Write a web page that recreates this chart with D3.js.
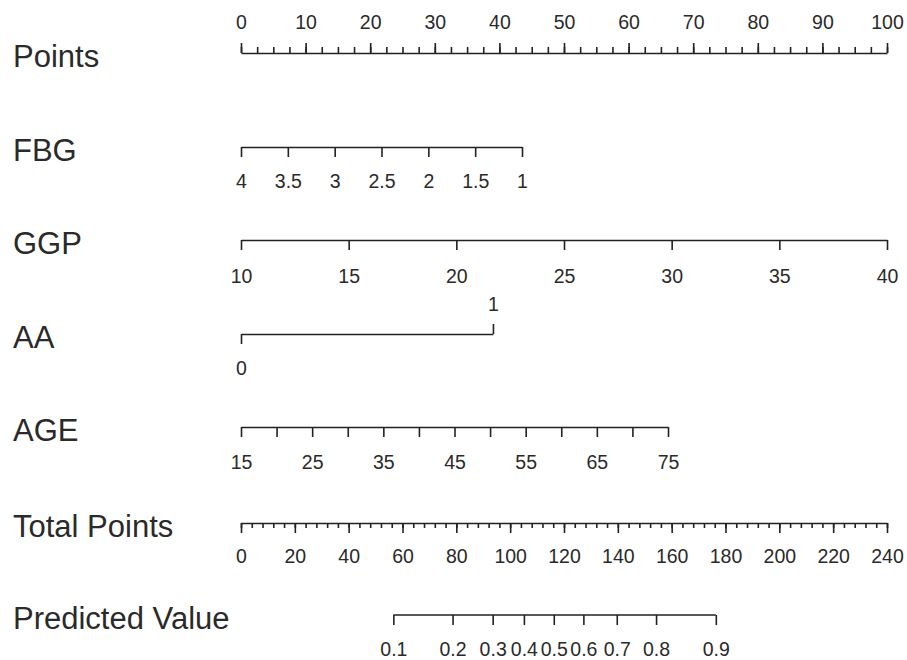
<!DOCTYPE html>
<html>
<head>
<meta charset="utf-8">
<script src="https://cdn.jsdelivr.net/npm/d3@7"></script>
<style>
  html, body { margin: 0; padding: 0; background: #fff; }
  svg { display: block; }
</style>
</head>
<body>
<svg id="chart" width="907" height="660"></svg>
<script>
// ---------------- data ----------------
const rowTitles = ["Points", "FBG", "GGP", "AA", "AGE", "Total Points", "Predicted Value"];

const pointsLabels = [0, 10, 20, 30, 40, 50, 60, 70, 80, 90, 100];
const pointsMinor = d3.range(0, 100.01, 2.5);

const fbgTicks = [4, 3.5, 3, 2.5, 2, 1.5, 1];
const fbgRange = [4, 1];          // values at 0 points and at max points
const fbgPointsMax = 43.5;

const ggpTicks = [10, 15, 20, 25, 30, 35, 40];
const ggpRange = [10, 40];
const ggpPointsMax = 100;

const aaTicks = [0, 1];
const aaRange = [0, 1];
const aaPointsMax = 39;

const ageTicks = [15, 20, 25, 30, 35, 40, 45, 50, 55, 60, 65, 70, 75];
const ageLabels = [15, 25, 35, 45, 55, 65, 75];
const ageRange = [15, 75];
const agePointsMax = 66.1;

const totalLabels = [0, 20, 40, 60, 80, 100, 120, 140, 160, 180, 200, 220, 240];
const totalMinor = d3.range(0, 240.01, 4);
const totalMax = 240;

const predLabels = ["0.1", "0.2", "0.3", "0.4", "0.5", "0.6", "0.7", "0.8", "0.9"];
const predTotalPoints = [56.6, 78.6, 93.5, 105.1, 116.2, 127.2, 139.6, 154.2, 176.4];

// ---------------- layout ----------------
const svg = d3.select("#chart");
const X0 = 241, X1 = 887;
const ink = "#222";
const titleFont = "31px 'Liberation Sans', Arial, sans-serif";
const tickFontSize = 19.5;

const xPts = d3.scaleLinear().domain([0, 100]).range([X0, X1]);
const xTot = d3.scaleLinear().domain([0, totalMax]).range([X0, X1]);

const rowY = {
  "Points": 53, "FBG": 147, "GGP": 240, "AA": 334,
  "AGE": 427, "Total Points": 523, "Predicted Value": 615
};
const labelY = {
  "Points": 22, "FBG": 181, "GGP": 276, "AA": 368,
  "AGE": 462, "Total Points": 556, "Predicted Value": 649
};

// titles
svg.selectAll("text.title")
  .data(rowTitles)
  .enter().append("text")
  .attr("class", "title")
  .attr("x", 13)
  .attr("y", d => rowY[d] + 3)
  .attr("dy", "0.35em")
  .style("font", titleFont)
  .attr("fill", "#2a2a2a")
  .text(d => d);

function styleAxis(g, labelRelY) {
  g.attr("font-family", null).attr("font-size", null);
  g.selectAll("path.domain").attr("stroke", ink).attr("stroke-width", 1.7);
  g.selectAll(".tick line").attr("stroke", ink).attr("stroke-width", 1.6);
  g.selectAll(".tick text")
    .attr("y", labelRelY)
    .attr("dy", "0.35em")
    .attr("fill", "#2a2a2a")
    .style("font-family", "'Liberation Sans', Arial, sans-serif")
    .style("font-size", tickFontSize + "px");
}

// ---- Points axis (ticks up) ----
{
  const y = rowY["Points"];
  const gMinor = svg.append("g").attr("transform", `translate(0,${y})`)
    .call(d3.axisTop(xPts).tickValues(pointsMinor).tickSize(6).tickSizeOuter(0).tickFormat(""));
  styleAxis(gMinor, 0);
  const gMajor = svg.append("g").attr("transform", `translate(0,${y})`)
    .call(d3.axisTop(xPts).tickValues(pointsLabels).tickSize(10).tickSizeOuter(0).tickFormat(d3.format("d")));
  styleAxis(gMajor, labelY["Points"] - y);
  gMajor.select("path.domain").remove();
}

// generic variable axis helper
function varAxis(name, domainRange, ptsMax, ticks, labels, fmt) {
  const y = rowY[name];
  const sc = d3.scaleLinear().domain(domainRange).range([xPts(0), xPts(ptsMax)]);
  const g = svg.append("g").attr("transform", `translate(0,${y})`)
    .call(d3.axisBottom(sc).tickValues(ticks).tickSize(10).tickSizeOuter(0)
      .tickFormat(d => (labels.indexOf(d) >= 0 ? fmt(d) : "")));
  styleAxis(g, labelY[name] - y);
  return g;
}

varAxis("FBG", fbgRange, fbgPointsMax, fbgTicks, fbgTicks, d => String(d));
varAxis("GGP", ggpRange, ggpPointsMax, ggpTicks, ggpTicks, d => String(d));
varAxis("AGE", ageRange, agePointsMax, ageTicks, ageLabels, d => String(d));

// ---- AA (0 below, 1 above) ----
{
  const y = rowY["AA"];
  const sc = d3.scaleLinear().domain(aaRange).range([xPts(0), xPts(aaPointsMax)]);
  const gB = svg.append("g").attr("transform", `translate(0,${y})`)
    .call(d3.axisBottom(sc).tickValues([aaTicks[0]]).tickSize(10).tickSizeOuter(0).tickFormat(d3.format("d")));
  styleAxis(gB, labelY["AA"] - y);
  const gT = svg.append("g").attr("transform", `translate(0,${y})`)
    .call(d3.axisTop(sc).tickValues([aaTicks[1]]).tickSize(10).tickSizeOuter(0).tickFormat(d3.format("d")));
  styleAxis(gT, 304 - y);
  gT.select("path.domain").remove();
}

// ---- Total Points ----
{
  const y = rowY["Total Points"];
  const gMinor = svg.append("g").attr("transform", `translate(0,${y})`)
    .call(d3.axisBottom(xTot).tickValues(totalMinor).tickSize(5).tickSizeOuter(0).tickFormat(""));
  styleAxis(gMinor, 0);
  const gMajor = svg.append("g").attr("transform", `translate(0,${y})`)
    .call(d3.axisBottom(xTot).tickValues(totalLabels).tickSize(10).tickSizeOuter(0).tickFormat(d3.format("d")));
  styleAxis(gMajor, labelY["Total Points"] - y);
  gMajor.select("path.domain").remove();
}

// ---- Predicted Value ----
{
  const y = rowY["Predicted Value"];
  const g = svg.append("g").attr("transform", `translate(0,${y})`)
    .call(d3.axisBottom(xTot).tickValues(predTotalPoints).tickSize(10).tickSizeOuter(0)
      .tickFormat((d, i) => predLabels[i]));
  styleAxis(g, labelY["Predicted Value"] - y);
  // domain spans only the first to last probability tick
  g.select("path.domain")
    .attr("d", `M${xTot(predTotalPoints[0])},0H${xTot(predTotalPoints[predTotalPoints.length - 1])}`);
}
</script>
</body>
</html>
